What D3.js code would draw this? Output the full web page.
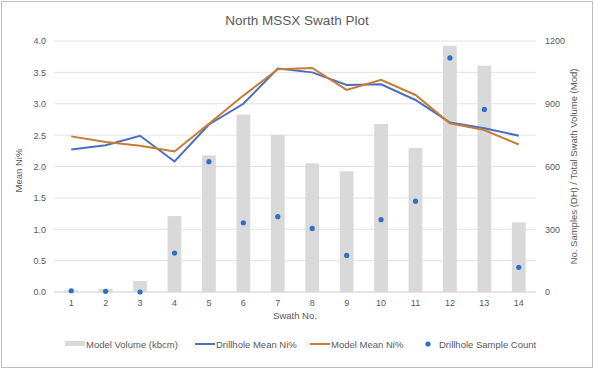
<!DOCTYPE html>
<html>
<head>
<meta charset="utf-8">
<script src="https://cdn.jsdelivr.net/npm/d3@7"></script>
<style>
  body { margin: 0; background: #fff; }
  svg text { font-family: "Liberation Sans", Arial, sans-serif; fill: #595959; }
</style>
</head>
<body>
<div class="chart"></div>
<script>
// Chart data
var swaths = ["1", "2", "3", "4", "5", "6", "7", "8", "9", "10", "11", "12", "13", "14"];
var modelVolume = [8, 15, 53, 363, 653, 848, 751, 615, 577, 803, 688, 1177, 1082, 333];
var drillholeMean = [2.27, 2.34, 2.49, 2.08, 2.67, 3.00, 3.56, 3.50, 3.30, 3.31, 3.06, 2.70, 2.61, 2.49];
var modelMean = [2.48, 2.39, 2.33, 2.24, 2.68, 3.13, 3.55, 3.57, 3.22, 3.38, 3.14, 2.69, 2.58, 2.35];
var sampleCount = [6, 3, 0, 186, 623, 331, 360, 304, 175, 346, 434, 1119, 873, 118];
var leftTicks = [0, 0.5, 1, 1.5, 2, 2.5, 3, 3.5, 4];
var rightTicks = [0, 300, 600, 900, 1200];

var svgWidth = 594;
var svgHeight = 369;
var margin = { top: 41, right: 58, bottom: 77, left: 54 };
var width = svgWidth - margin.left - margin.right;
var height = svgHeight - margin.top - margin.bottom;

var svg = d3.select(".chart")
  .append("svg")
  .attr("width", svgWidth)
  .attr("height", svgHeight);

// outer border
svg.append("rect")
  .attr("x", 1.5).attr("y", 1.5)
  .attr("width", svgWidth - 3).attr("height", svgHeight - 3)
  .attr("fill", "none")
  .attr("stroke", "#bfbfbf");

var chart = svg.append("g")
  .attr("transform", "translate(" + margin.left + ", " + margin.top + ")");

var xScale = d3.scaleBand().domain(swaths).range([0, width]);
var yLeft = d3.scaleLinear().domain([0, 4]).range([height, 0]);
var yRight = d3.scaleLinear().domain([0, 1200]).range([height, 0]);

// gridlines
chart.selectAll(".grid")
  .data(leftTicks)
  .enter().append("line")
  .attr("x1", 0).attr("x2", width)
  .attr("y1", function(d) { return yLeft(d); })
  .attr("y2", function(d) { return yLeft(d); })
  .attr("stroke", "#e3e3e3")
  .attr("stroke-width", 1);

// bars
var barW = xScale.bandwidth() / 2.5;
chart.selectAll(".bar")
  .data(modelVolume)
  .enter().append("rect")
  .attr("x", function(d, i) { return xScale(swaths[i]) + (xScale.bandwidth() - barW) / 2; })
  .attr("y", function(d) { return yRight(d); })
  .attr("width", barW)
  .attr("height", function(d) { return height - yRight(d); })
  .attr("fill", "#d9d9d9");

// x axis line
chart.append("line")
  .attr("x1", 0).attr("x2", width)
  .attr("y1", height).attr("y2", height)
  .attr("stroke", "#d9d9d9");

var cx = function(i) { return xScale(swaths[i]) + xScale.bandwidth() / 2; };

var drawLine = d3.line()
  .x(function(d, i) { return cx(i); })
  .y(function(d) { return yLeft(d); });

chart.append("path")
  .attr("d", drawLine(drillholeMean))
  .attr("fill", "none")
  .attr("stroke", "#4a6fbf")
  .attr("stroke-width", 2);

chart.append("path")
  .attr("d", drawLine(modelMean))
  .attr("fill", "none")
  .attr("stroke", "#c77c33")
  .attr("stroke-width", 2);

chart.selectAll(".dot")
  .data(sampleCount)
  .enter().append("circle")
  .attr("cx", function(d, i) { return cx(i); })
  .attr("cy", function(d) { return yRight(d); })
  .attr("r", 2.6)
  .attr("fill", "#2f6fc4");

// axes
var leftAxis = d3.axisLeft(yLeft).tickValues(leftTicks).tickSize(0).tickPadding(8)
  .tickFormat(d3.format(".1f"));
var rightAxis = d3.axisRight(yRight).tickValues(rightTicks).tickSize(0).tickPadding(9)
  .tickFormat(d3.format("d"));
var bottomAxis = d3.axisBottom(xScale).tickSize(0).tickPadding(8);

[chart.append("g").call(leftAxis),
 chart.append("g").attr("transform", "translate(" + width + ",0)").call(rightAxis),
 chart.append("g").attr("transform", "translate(0," + height + ")").call(bottomAxis)
].forEach(function(g) {
  g.select(".domain").remove();
  g.selectAll("text").style("font-size", "9px").attr("fill", "#7f7f7f");
});

// title
svg.append("text")
  .attr("x", svgWidth / 2).attr("y", 25)
  .attr("text-anchor", "middle")
  .style("font-size", "13.5px")
  .text("North MSSX Swath Plot");

// axis titles
svg.append("text")
  .attr("transform", "translate(22," + (margin.top + height / 2 + 4) + ") rotate(-90)")
  .attr("text-anchor", "middle")
  .style("font-size", "9.5px")
  .text("Mean Ni%");

svg.append("text")
  .attr("transform", "translate(577," + (margin.top + height / 2) + ") rotate(-90)")
  .attr("text-anchor", "middle")
  .style("font-size", "9.5px")
  .text("No. Samples (DH) / Total Swath Volume (Mod)");

svg.append("text")
  .attr("x", margin.left + width / 2).attr("y", 319)
  .attr("text-anchor", "middle")
  .style("font-size", "9.5px")
  .text("Swath No.");

// legend
var legend = svg.append("g").attr("transform", "translate(0,344)");
var items = [
  { label: "Model Volume (kbcm)", x: 65, type: "bar", color: "#d9d9d9" },
  { label: "Drillhole Mean Ni%", x: 195, type: "line", color: "#4a6fbf" },
  { label: "Model Mean Ni%", x: 310, type: "line", color: "#c77c33" },
  { label: "Drillhole Sample Count", x: 422, type: "dot", color: "#2f6fc4" }
];
items.forEach(function(it) {
  if (it.type === "bar") {
    legend.append("rect").attr("x", it.x).attr("y", -3).attr("width", 20).attr("height", 5).attr("fill", it.color);
  } else if (it.type === "line") {
    legend.append("line").attr("x1", it.x).attr("x2", it.x + 20).attr("y1", 0).attr("y2", 0)
      .attr("stroke", it.color).attr("stroke-width", 2);
  } else {
    legend.append("circle").attr("cx", it.x + 6).attr("cy", 0).attr("r", 2.6).attr("fill", it.color);
  }
  legend.append("text")
    .attr("x", it.type === "dot" ? it.x + 17 : it.x + 21)
    .attr("y", 3.5)
    .style("font-size", "9.5px")
    .text(it.label);
});
</script>
</body>
</html>
